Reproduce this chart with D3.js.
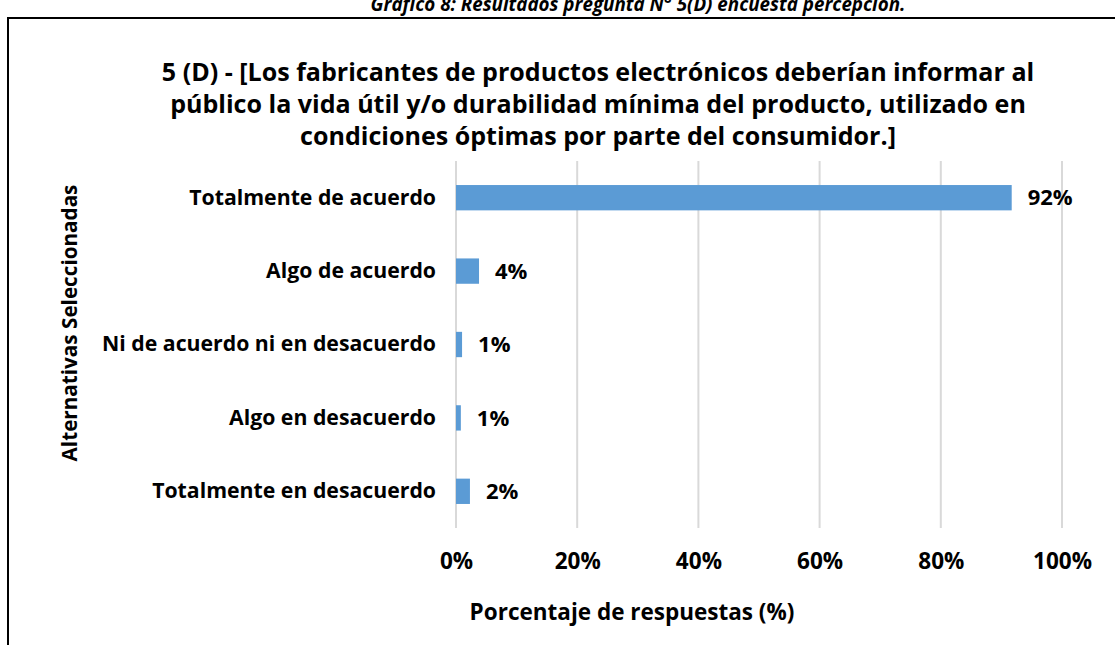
<!DOCTYPE html>
<html>
<head>
<meta charset="utf-8">
<script src="https://cdn.jsdelivr.net/npm/d3@7"></script>
<style>
  body { margin: 0; background: #fff; }
  svg text { font-family: "Open Sans", Lato, sans-serif; font-weight: 700; fill: #000; }
  .grid line { stroke: #d9d9d9; stroke-width: 2; }
</style>
</head>
<body>
<div id="chart"></div>
<script>
var categories = [
  'Totalmente de acuerdo',
  'Algo de acuerdo',
  'Ni de acuerdo ni en desacuerdo',
  'Algo en desacuerdo',
  'Totalmente en desacuerdo'
];
var values = [91.7, 3.8, 1.0, 0.8, 2.3];
var valueLabels = ['92%', '4%', '1%', '1%', '2%'];
var xTicks = [0, 20, 40, 60, 80, 100];
var titleLines = [
  '5 (D) - [Los fabricantes de productos electrónicos deberían informar al',
  'público la vida útil y/o durabilidad mínima del producto, utilizado en',
  'condiciones óptimas por parte del consumidor.]'
];
var headerText = 'Gráfico 8: Resultados pregunta N° 5(D) encuesta percepción.';
var xTitle = 'Porcentaje de respuestas (%)';
var yTitle = 'Alternativas Seleccionadas';

var W = 1115, H = 645;
var plot = { left: 456, right: 1062, top: 161, bottom: 528 };

var svg = d3.select('#chart')
  .append('svg')
  .attr('width', W)
  .attr('height', H);

// scale a text selection so that the reference element gets the wanted width
function fitSize(sel, refNode, target) {
  var base = 20;
  sel.style('font-size', base + 'px');
  var w = refNode.getComputedTextLength();
  var size = base * target / w;
  sel.style('font-size', size + 'px');
  return size;
}

// header cut at the top of the page
var header = svg.append('text')
  .attr('x', 638)
  .attr('y', 11)
  .attr('text-anchor', 'middle')
  .style('font-style', 'italic')
  .text(headerText);
fitSize(header, header.node(), 535);

// chart frame (left and top edges only visible)
svg.append('path')
  .attr('d', 'M8,' + H + 'V18H' + W)
  .attr('fill', 'none')
  .attr('stroke', '#000')
  .attr('stroke-width', 2);

// title
var title = svg.append('g')
  .selectAll('text')
  .data(titleLines)
  .enter().append('text')
  .attr('x', 598)
  .attr('y', (d, i) => 81 + i * 32)
  .attr('text-anchor', 'middle')
  .text((d) => d);
fitSize(title, title.nodes()[0], 873);

var x = d3.scaleLinear()
  .domain([0, 100])
  .range([plot.left, plot.right]);

var y = d3.scaleBand()
  .domain(categories)
  .range([plot.top, plot.bottom])
  .paddingInner(0.655)
  .paddingOuter(0.3275);

// vertical gridlines
svg.append('g')
  .attr('class', 'grid')
  .selectAll('line')
  .data(xTicks)
  .enter().append('line')
  .attr('x1', (d) => x(d))
  .attr('x2', (d) => x(d))
  .attr('y1', plot.top)
  .attr('y2', plot.bottom);

// x axis tick labels
var xAxis = d3.axisBottom(x)
  .tickValues(xTicks)
  .tickFormat((d) => d + '%')
  .tickSize(0)
  .tickPadding(0);

var gx = svg.append('g')
  .attr('transform', 'translate(0,' + (plot.bottom + 25) + ')')
  .call(xAxis);
gx.select('.domain').remove();
var xt = gx.selectAll('text')
  .attr('font-family', null)
  .attr('dy', '0.71em');
fitSize(xt, xt.nodes()[5], 59);

// y axis labels
var yAxis = d3.axisLeft(y)
  .tickSize(0)
  .tickPadding(20);

var gy = svg.append('g')
  .attr('transform', 'translate(' + plot.left + ',0)')
  .call(yAxis);
gy.select('.domain').remove();
var yt = gy.selectAll('text')
  .attr('font-family', null);
fitSize(yt, yt.nodes()[2], 334);

// bars
svg.append('g')
  .selectAll('rect')
  .data(values)
  .enter().append('rect')
  .attr('x', x(0))
  .attr('y', (d, i) => y(categories[i]))
  .attr('width', (d) => x(d) - x(0))
  .attr('height', y.bandwidth())
  .attr('fill', '#5b9bd5');

// value labels
var vl = svg.append('g')
  .selectAll('text')
  .data(values)
  .enter().append('text')
  .attr('x', (d) => x(d) + 16)
  .attr('y', (d, i) => y(categories[i]) + y.bandwidth() / 2)
  .attr('dy', '0.35em')
  .text((d, i) => valueLabels[i]);
fitSize(vl, vl.nodes()[0], 45);

// axis titles
var xl = svg.append('text')
  .attr('x', 632)
  .attr('y', 620)
  .attr('text-anchor', 'middle')
  .text(xTitle);
fitSize(xl, xl.node(), 325);

var yl = svg.append('text')
  .attr('transform', 'translate(77,' + 323 + ') rotate(-90)')
  .attr('text-anchor', 'middle')
  .text(yTitle);
fitSize(yl, yl.node(), 277);
</script>
</body>
</html>
